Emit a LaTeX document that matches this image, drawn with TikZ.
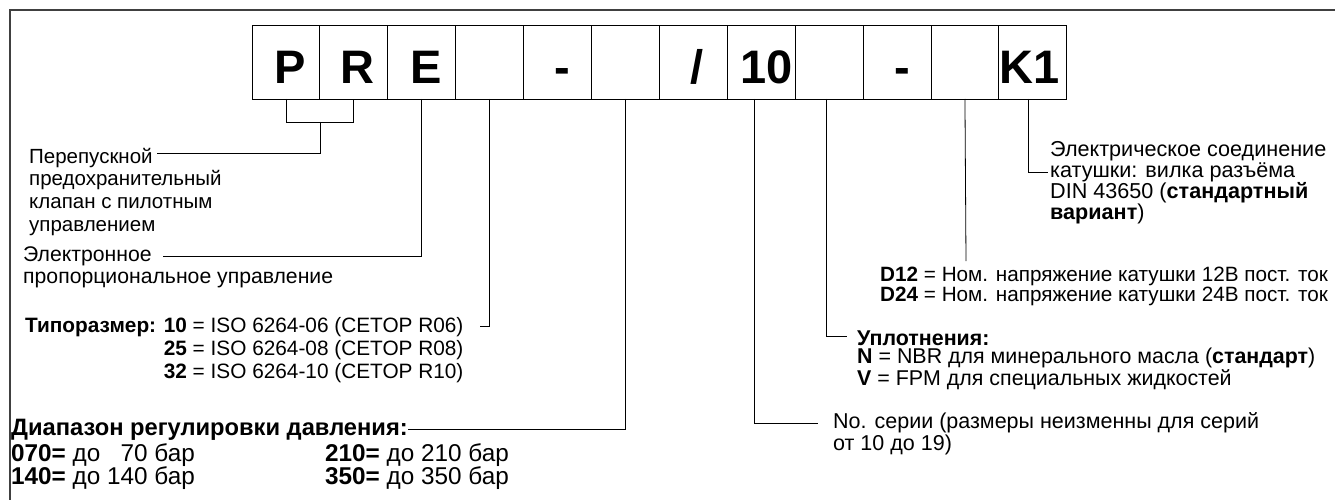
\documentclass[tikz,border=0pt]{standalone}
\usepackage{fontspec}
\setmainfont{Liberation Sans}
\usetikzlibrary{calc}
\newcommand\fntLeft{\fontsize{20.5}{22.6}\selectfont}
\newcommand\fntLeftB{\fontsize{21.2}{22.7}\selectfont}
\newcommand\fntTyp{\fontsize{20.8}{23}\selectfont}
\newcommand\fntDia{\fontsize{23.7}{23}\selectfont}
\newcommand\fntDiaRow{\fontsize{24.3}{23}\selectfont}
\newcommand\fntEl{\fontsize{21.6}{21}\selectfont}
\newcommand\fntVolt{\fontsize{20.7}{18.4}\selectfont}
\newcommand\fntSeal{\fontsize{21.4}{18.5}\selectfont}
\newcommand\fntSer{\fontsize{21.5}{18.4}\selectfont}
\begin{document}
\begin{tikzpicture}[x=1pt,y=-1pt,
  box/.style={draw=black, line width=0.9pt, minimum width=67.9pt, minimum height=74pt, inner sep=0pt, outer sep=0pt},
  big/.style={font=\fontsize{47}{47}\selectfont\bfseries, anchor=base, inner sep=0pt},
  lead/.style={draw=black, line width=0.8pt},
  frame/.style={draw=black!75, line width=1.4pt},
  txt/.style={anchor=base west, inner sep=0pt, align=left}
]
\useasboundingbox (0,0) rectangle (1335,500);
\fill[white] (0,0) rectangle (1335,500);
\draw[frame] (10,520) -- (10,10) -- (1350,10);

% code boxes
\foreach \i in {1,...,12} {
  \node[box] (b\i) at ({252+67.9*(\i-0.5)},62) {};
}
\node[big] (cP) at ([xshift=4pt,yshift=15pt]b1.south) {P};
\node[big] (cR) at ([xshift=4pt,yshift=15pt]b2.south) {R};
\node[big] (cE) at ([xshift=4pt,yshift=15pt]b3.south) {E};
\node[big] (cD1) at ([xshift=5pt,yshift=15pt]b5.south) {-};
\node[big] (cS) at ([xshift=4pt,yshift=15pt]b7.south) {/};
\node[big] (c10) at ([xshift=5pt,yshift=15pt]b8.south) {10};
\node[big] (cD2) at ([xshift=5pt,yshift=15pt]b10.south) {-};
\node[big] (cK) at ([xshift=-3pt,yshift=15pt]b12.south) {K1};

% texts (anchor = baseline of the last line)
\node[txt, font=\fntLeft] (t1) at (29,231) {Перепускной\\предохранительный\\клапан с пилотным\\управлением};
\node[txt, font=\fntLeftB] (t2) at (23,283.7) {Электронное\\пропорциональное управление};
\node[txt, font=\fntTyp] (t3) at (25,378) {\textbf{Типоразмер: 10} = ISO 6264-06 (CETOP R06)\\
  \phantom{\textbf{Типоразмер: }}\textbf{25} = ISO 6264-08 (CETOP R08)\\
  \phantom{\textbf{Типоразмер: }}\textbf{32} = ISO 6264-10 (CETOP R10)};
\node[txt, font=\fntDia] (t4) at (11,435) {\textbf{Диапазон регулировки давления:}};
\node[txt, font=\fntDiaRow] (t5) at (11,484) {\textbf{070=} до \phantom{1}70 бар\\\textbf{140=} до 140 бар};
\node[txt, font=\fntDiaRow] (t6) at (325,484) {\textbf{210=} до 210 бар\\\textbf{350=} до 350 бар};
\node[txt, font=\fntEl] (t7) at (1050,219) {Электрическое соединение\\катушки: вилка разъёма\\DIN 43650 (\textbf{стандартный}\\\textbf{вариант})};
\node[txt, font=\fntVolt] (t8) at (880,301.5) {\textbf{D12} = Ном. напряжение катушки 12В пост. ток\\\textbf{D24} = Ном. напряжение катушки 24В пост. ток};
\node[txt, font=\fntSeal] (t9) at (857,385) {\textbf{Уплотнения:}\\\textbf{N} = NBR для минерального масла (\textbf{стандарт})\\\textbf{V} = FPM для специальных жидкостей};
\node[txt, font=\fntSer] (t10) at (833,450) {No. серии (размеры неизменны для серий\\от 10 до 19)};

% leader end points
\coordinate (e1) at (157,153);
\coordinate (e2) at (163,256);
\coordinate (e3) at (480,326);
\coordinate (e4) at (408,429);
\coordinate (e5) at (1048,172);
\coordinate (e6) at (966,261);
\coordinate (e7) at (847,336);
\coordinate (e8) at (818,423);

% leaders
\draw[lead] (b1.south) -- ++(0,23) -| (b2.south);
\draw[lead] ($(b1.south)!0.5!(b2.south)+(0,23)$) |- (e1);
\draw[lead] (b3.south) |- (e2);
\draw[lead] (b4.south) |- (e3);
\draw[lead] (b6.south) |- (e4);
\draw[lead] ([xshift=-7pt]b8.south) |- (e8);
\draw[lead] ([xshift=-3pt]b9.south) |- (e7);
\draw[lead] (b11.south) -- (e6);
\draw[lead] ([xshift=-4pt]b12.south) |- (e5);
\end{tikzpicture}
\end{document}
